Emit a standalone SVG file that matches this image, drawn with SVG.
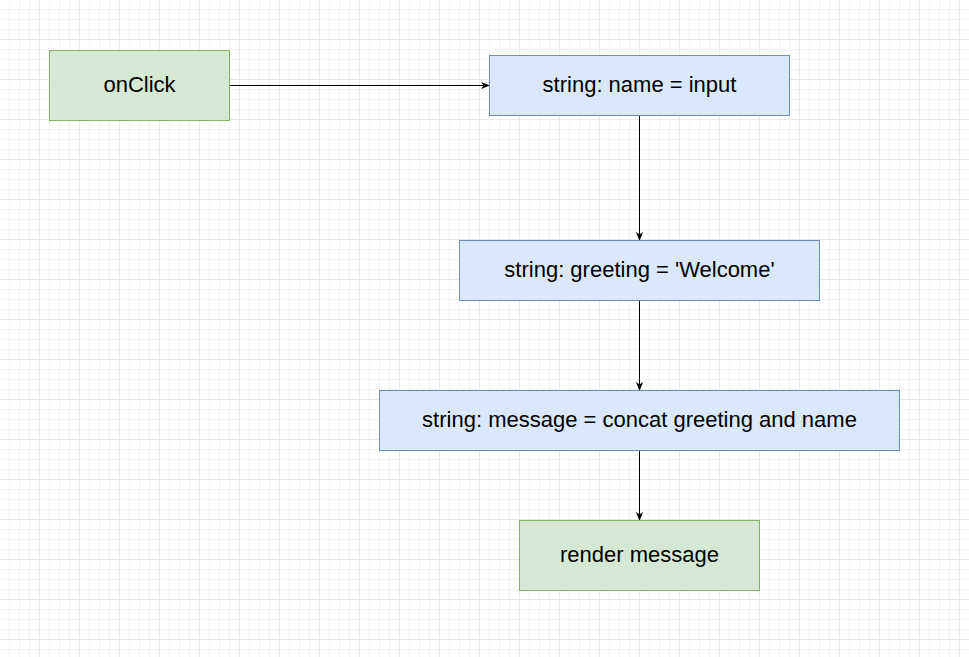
<svg xmlns="http://www.w3.org/2000/svg" width="969" height="657" viewBox="0 0 969 657">
<defs>
<pattern id="minor" width="10" height="10" patternUnits="userSpaceOnUse">
<path d="M10 0V10M0 10H10" fill="none" stroke="#f3f3f3" stroke-width="1" transform="translate(-0.5,-0.5)"/>
</pattern>
<pattern id="major" width="40" height="40" patternUnits="userSpaceOnUse">
<path d="M40 0V40M0 40H40" fill="none" stroke="#e8e8e8" stroke-width="1" transform="translate(-0.5,-0.5)"/>
</pattern>
<marker id="arr" viewBox="0 0 10 10" refX="9" refY="5" markerWidth="9" markerHeight="9" markerUnits="userSpaceOnUse" orient="auto">
<path d="M0 1 L10 5 L0 9 L3 5 Z" fill="#000"/>
</marker>
<style>
.g rect{fill:#d5e8d4;stroke:#82b366;stroke-width:1}
.b rect{fill:#dae8fc;stroke:#6c8ebf;stroke-width:1}
text{font-family:"Liberation Sans",Arial,sans-serif;font-size:22px;fill:#000;text-anchor:middle}
.e path{fill:none;stroke:#000;stroke-width:1;marker-end:url(#arr)}
</style>
</defs>
<rect width="969" height="657" fill="#fff"/>
<rect width="969" height="657" fill="url(#minor)"/>
<rect width="969" height="657" fill="url(#major)"/>
<g id="connectors" class="e">
<path d="M229.5 85.5H489"/>
<path d="M639.5 115.5V240"/>
<path d="M639.5 300.5V390"/>
<path d="M639.5 450.5V520"/>
</g>
<g id="onClick" class="g"><rect x="49.5" y="50.5" width="180" height="70"/><text x="139.5" y="92">onClick</text></g>
<g id="name" class="b"><rect x="489.5" y="55.5" width="300" height="60"/><text x="639.5" y="92">string: name = input</text></g>
<g id="greeting" class="b"><rect x="459.5" y="240.5" width="360" height="60"/><text x="639.5" y="277">string: greeting = 'Welcome'</text></g>
<g id="message" class="b"><rect x="379.5" y="390.5" width="520" height="60"/><text x="639.5" y="427">string: message = concat greeting and name</text></g>
<g id="render" class="g"><rect x="519.5" y="520.5" width="240" height="70"/><text x="639.5" y="562">render message</text></g>
</svg>
